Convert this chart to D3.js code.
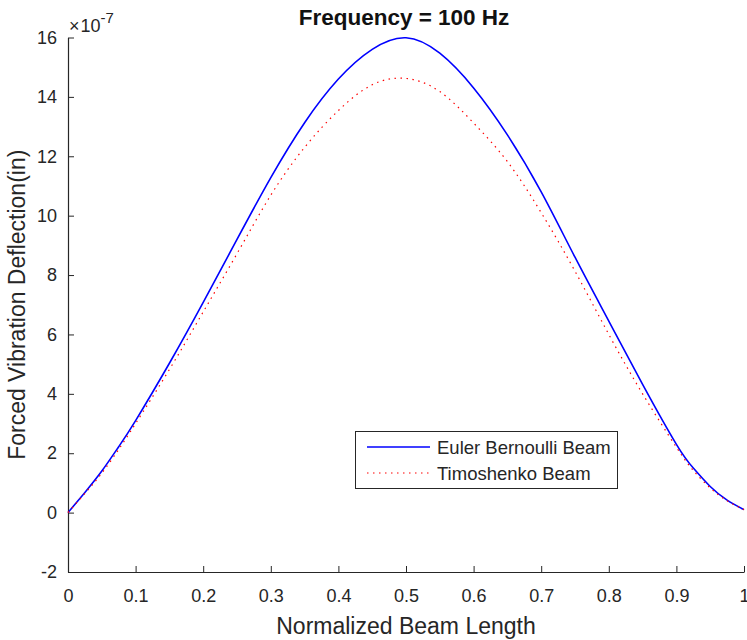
<!DOCTYPE html>
<html>
<head>
<meta charset="utf-8">
<script src="https://cdn.jsdelivr.net/npm/d3@7"></script>
<style>
  html, body { margin: 0; padding: 0; background: #fff; }
  svg { display: block; font-family: "Liberation Sans", Arial, Helvetica, sans-serif; }
</style>
</head>
<body>
<svg id="chart" width="747" height="640"></svg>
<script>
// ---- data (deflection in units of 1e-7 in) ----
const xPositions = [0, 0.025, 0.05, 0.075, 0.1, 0.15, 0.2, 0.25, 0.3, 0.35, 0.4, 0.45, 0.5, 0.55, 0.6, 0.65, 0.7, 0.75, 0.8, 0.85, 0.9, 0.925, 0.95, 0.975, 1];
const eulerBernoulli = [0, 0.68, 1.4, 2.22, 3.1, 5.03, 7.08, 9.2, 11.28, 13.13, 14.6, 15.6, 15.99, 15.47, 14.3, 12.72, 10.8, 8.6, 6.45, 4.32, 2.3, 1.5, 0.88, 0.42, 0.1];
const timoshenko = [0, 0.65, 1.33, 2.13, 3.0, 4.82, 6.76, 8.72, 10.69, 12.30, 13.54, 14.41, 14.62, 14.18, 13.12, 11.82, 10.1, 8.13, 6.0, 4.0, 2.2, 1.42, 0.83, 0.4, 0.1];
const xTicks = [0, 0.1, 0.2, 0.3, 0.4, 0.5, 0.6, 0.7, 0.8, 0.9, 1];
const yTicks = [-2, 0, 2, 4, 6, 8, 10, 12, 14, 16];
const seriesNames = ["Euler Bernoulli Beam", "Timoshenko Beam"];
const exponent = "-7";
const titleText = "Frequency = 100 Hz";
const xLabel = "Normalized Beam Length";
const yLabel = "Forced Vibration Deflection(in)";

const svg = d3.select("#chart");
const margin = { left: 68, right: 3, top: 37.5, bottom: 68 };
const W = 747, H = 640;
const axisColor = "#262626";

const x = d3.scaleLinear().domain([0, 1]).range([margin.left, W - margin.right]);
const y = d3.scaleLinear().domain([-2, 16]).range([H - margin.bottom, margin.top]);

// axes
const xAxis = d3.axisBottom(x).tickValues(xTicks).tickSizeInner(-6).tickSizeOuter(0)
  .tickPadding(17).tickFormat(d => d3.format("")(d));
const yAxis = d3.axisLeft(y).tickValues(yTicks).tickSizeInner(-6).tickSizeOuter(0)
  .tickPadding(11).tickFormat(d => d);

const gx = svg.append("g").attr("transform", `translate(0,${y(-2)})`).call(xAxis);
const gy = svg.append("g").attr("transform", `translate(${x(0)},0)`).call(yAxis);
[gx, gy].forEach(g => {
  g.select(".domain").attr("stroke", axisColor).attr("stroke-width", 1.2);
  g.selectAll(".tick line").attr("stroke", axisColor).attr("stroke-width", 1);
  g.selectAll(".tick text").attr("fill", axisColor).style("font-size", "18px")
    .style("font-family", '"Liberation Sans", Arial, sans-serif');
});

// lines
const line = d3.line().x(d => x(d[0])).y(d => y(d[1])).curve(d3.curveNatural);
svg.append("path")
  .datum(xPositions.map((v, i) => [v, eulerBernoulli[i]]))
  .attr("fill", "none").attr("stroke", "#0000ff").attr("stroke-width", 1.6)
  .attr("d", line);
svg.append("path")
  .datum(xPositions.map((v, i) => [v, timoshenko[i]]))
  .attr("fill", "none").attr("stroke", "#ff0000").attr("stroke-width", 1.2)
  .attr("stroke-dasharray", "1.5,4.5")
  .attr("d", line);

// exponent label
const ex = svg.append("text").attr("x", x(0) + 1).attr("y", 32)
  .attr("fill", axisColor).style("font-size", "18px");
ex.append("tspan").text("\u00d7");
ex.append("tspan").text("10").attr("dx", 1);
ex.append("tspan").text(exponent).attr("dy", -9).style("font-size", "15px");

// title
svg.append("text").attr("x", 404).attr("y", 25).attr("text-anchor", "middle")
  .attr("fill", "#111").style("font-size", "22.5px").style("font-weight", "bold")
  .text(titleText);

// axis labels
svg.append("text").attr("x", (x(0) + x(1)) / 2).attr("y", 634).attr("text-anchor", "middle")
  .attr("fill", axisColor).style("font-size", "23px").text(xLabel);
svg.append("text").attr("transform", `translate(25,${(y(16) + y(-2)) / 2}) rotate(-90)`)
  .attr("text-anchor", "middle").attr("fill", axisColor).style("font-size", "23px").text(yLabel);

// legend
const lg = svg.append("g");
lg.append("rect").attr("x", 355.5).attr("y", 431.5).attr("width", 262).attr("height", 57)
  .attr("fill", "#fff").attr("stroke", axisColor).attr("stroke-width", 1);
const legendStyles = [
  { color: "#0000ff", dash: null, w: 1.6 },
  { color: "#ff0000", dash: "1.5,4.5", w: 1.2 }
];
seriesNames.forEach((name, i) => {
  const cy = 447 + i * 26;
  lg.append("line").attr("x1", 367).attr("x2", 430).attr("y1", cy).attr("y2", cy)
    .attr("stroke", legendStyles[i].color).attr("stroke-width", legendStyles[i].w)
    .attr("stroke-dasharray", legendStyles[i].dash);
  lg.append("text").attr("x", 437).attr("y", cy + 6.5).attr("fill", axisColor)
    .style("font-size", "18.5px").text(name);
});
</script>
</body>
</html>
